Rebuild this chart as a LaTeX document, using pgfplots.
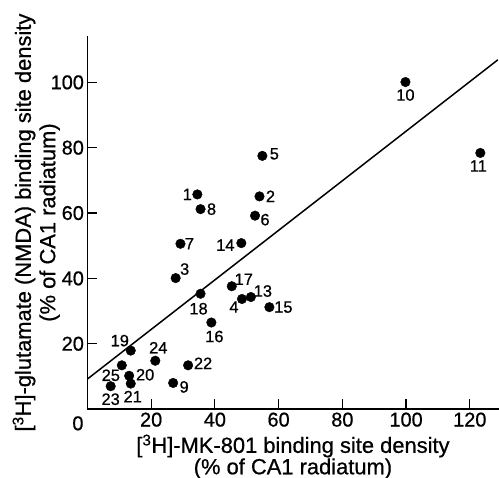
\documentclass[border=0pt]{standalone}
\usepackage{fontspec}
\setmainfont{Liberation Sans}[FakeBold=0.7]
\usepackage{pgfplots}
\usepackage{pgfplotstable}
\pgfplotsset{compat=1.18}
\pgfplotstableread{
x y lab dx dy
34.5 65.7 1 -10 0
54.0 65.1 2 11 0
27.7 40.1 3 9 9
48.5 33.7 4 -8 -8
54.9 77.5 5 12 2
52.6 59.2 6 10 -4
29.2 50.6 7 9 0
35.5 61.2 8 11 0
26.9 8.0 9 11 -4
99.8 100.1 10 0 -13
123.3 78.4 11 -2 -13
51.3 34.3 13 12 6
48.3 50.8 14 -16 -2
57.1 31.2 15 14 0
38.9 26.5 16 3 -14
45.3 37.6 17 12 7
35.5 35.3 18 -2 -15
13.6 17.9 19 -11 10
13.1 10.2 20 16 1
13.6 7.8 21 2 -13
31.6 13.4 22 15 2
7.3 7.0 23 0 -13
21.3 14.8 24 3 13
10.8 13.4 25 -11 -10
}\pts
\begin{document}
\begin{tikzpicture}
\begin{axis}[
  scale only axis,
  width=411.5bp, height=373.5bp,
  xmin=0, xmax=129, ymin=0, ymax=114.2,
  axis x line*=bottom, axis y line*=left,
  axis line style={line width=1.4bp},
  tick align=inside,
  major tick length=10bp,
  tick style={line width=1.2bp, black},
  xtick={20,40,...,120}, ytick={20,40,...,100},
  /pgf/number format/assume math mode=true,
  tick label style={font=\fontsize{20}{24}\selectfont},
  clip=false,
  xlabel={[\textsuperscript{3}H]-MK-801 binding site density\\(\% of CA1 radiatum)},
  ylabel={[\textsuperscript{3}H]-glutamate (NMDA) binding site density\\(\% of CA1 radiatum)},
  xlabel style={font=\fontsize{22}{20}\selectfont, align=center, inner sep=0pt,
    at={(axis description cs:0.5,-0.068)}, anchor=north},
  ylabel style={font=\fontsize{22}{24.5}\selectfont, align=center, inner sep=0pt,
    at={(axis description cs:-0.0668,0.5)}, anchor=south, rotate=0},
]
\addplot[black, line width=1.5bp, no marks] coordinates {(0,9.2) (128.8,106.9)};
\addplot[only marks, mark=*, mark size=4.8bp, black,
  point meta=explicit symbolic,
  nodes near coords,
  visualization depends on={\thisrow{dx}\as\dx},
  visualization depends on={\thisrow{dy}\as\dy},
  every node near coord/.append style={anchor=center, xshift=\dx bp, yshift=\dy bp,
    font=\fontsize{16.5}{19}\selectfont, inner sep=0pt, black},
] table[x=x, y=y, meta=lab] {\pts};
\coordinate (sw) at (rel axis cs:0,0);
\coordinate (ne) at (rel axis cs:1,1);
\end{axis}
\node[font=\fontsize{20}{24}\selectfont, anchor=north, inner sep=0pt] at ([xshift=-9.5bp,yshift=-7bp]sw) {0};
\pgfresetboundingbox
\path[use as bounding box] ([xshift=-87.5bp,yshift=-68.5bp]sw) rectangle ([xshift=0.5bp,yshift=36bp]ne);
\end{tikzpicture}
\end{document}
